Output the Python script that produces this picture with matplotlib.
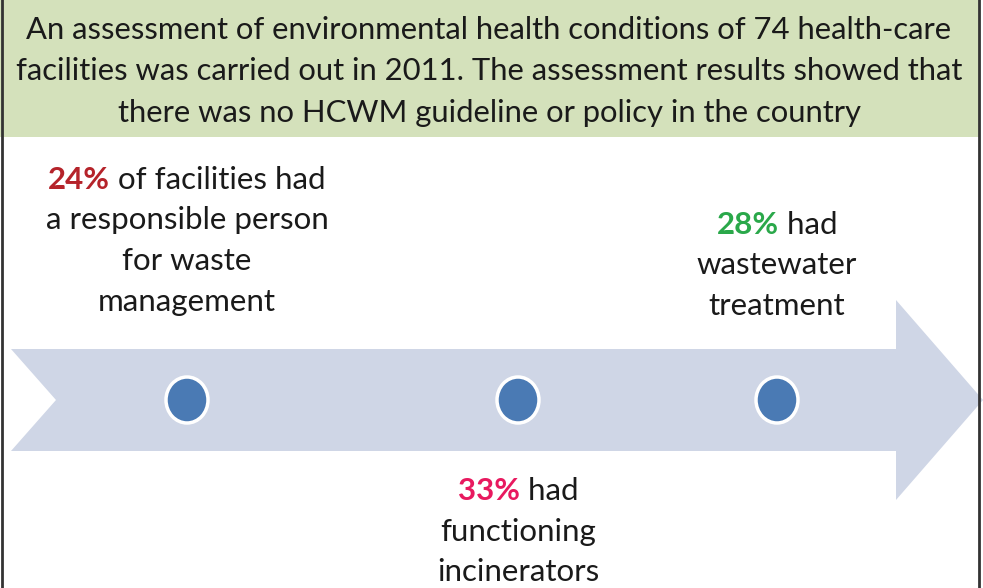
import matplotlib.pyplot as plt
from matplotlib.patches import Polygon, Rectangle, Ellipse

plt.rcParams['font.family'] = ['Lato', 'DejaVu Sans']

header = ["An assessment of environmental health conditions of 74 health-care",
          "facilities was carried out in 2011. The assessment results showed that",
          "there was no HCWM guideline or policy in the country"]

# milestones along the arrow: percent, colour, rest of first line, other lines
pcts = ["24%", "33%", "28%"]
pct_colors = ['#b5232a', '#e8195f', '#2aa84a']
first_rest = [" of facilities had", " had", " had"]
more_lines = [["a responsible person", "for waste", "management"],
              ["functioning", "incinerators"],
              ["wastewater", "treatment"]]
dot_x = [187, 518, 777]
text_top = [180, 491, 225]
line_gap = 40.5

fig = plt.figure(figsize=(9.83, 5.88), dpi=100)
ax = fig.add_axes([0, 0, 1, 1])
ax.set_xlim(0, 983)
ax.set_ylim(588, 0)
ax.axis('off')

# header box
ax.add_patch(Rectangle((0, 0), 979, 137, facecolor='#d4e1bb', edgecolor='none'))
ax.plot([2, 2], [0, 588], color='#333333', lw=2)
ax.plot([979, 979], [0, 588], color='#333333', lw=2)
for i, s in enumerate(header):
    ax.text(489, 30 + i * 41.5, s, ha='center', va='center', fontsize=22.3, color='#1a1a1a')

# arrow
arrow = [(11, 349), (896, 349), (896, 300), (983, 400), (896, 500), (896, 451),
         (11, 451), (56, 400)]
ax.add_patch(Polygon(arrow, closed=True, facecolor='#cfd6e6', edgecolor='none'))

for x in dot_x:
    ax.add_patch(Ellipse((x, 400), 42, 46, facecolor='#4a7ab4', edgecolor='white', lw=2.5))

fig.canvas.draw()
r = fig.canvas.get_renderer()
fs = 22.5
for k in range(3):
    x0, y0 = dot_x[k], text_top[k]
    a = ax.text(0, y0, pcts[k], fontsize=fs, fontweight='bold', color=pct_colors[k], va='center', ha='left')
    b = ax.text(0, y0, first_rest[k], fontsize=fs, color='#1a1a1a', va='center', ha='left')
    wa = a.get_window_extent(r).width
    wb = b.get_window_extent(r).width
    # pixel widths equal data units here
    start = x0 - (wa + wb) / 2
    a.set_x(start)
    b.set_x(start + wa)
    for j, s in enumerate(more_lines[k]):
        ax.text(x0, y0 + (j + 1) * line_gap, s, fontsize=fs, color='#1a1a1a', ha='center', va='center')

fig.savefig('out.png', dpi=100)
